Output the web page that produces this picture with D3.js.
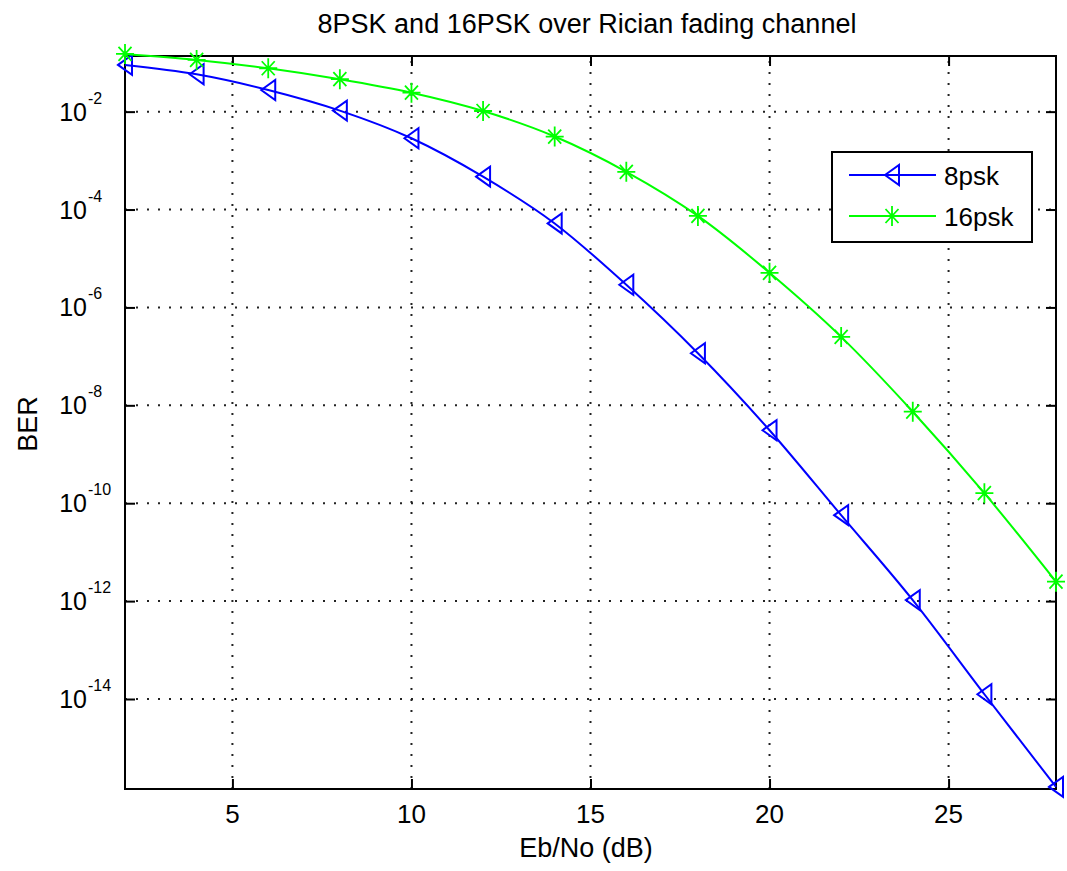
<!DOCTYPE html>
<html>
<head>
<meta charset="utf-8">
<script src="https://cdn.jsdelivr.net/npm/d3@7"></script>
<style>
  body { margin: 0; background: #fff; }
  svg { display: block; font-family: "Liberation Sans", Arial, sans-serif; }
</style>
</head>
<body>
<svg id="chart" width="1067" height="871"></svg>
<script>
// Eb/No in dB
const ebno = [2, 4, 6, 8, 10, 12, 14, 16, 18, 20, 22, 24, 26, 28];
// BER
const ber8psk = [0.090, 0.058, 0.0277, 0.0105, 0.00286, 4.7e-4, 5.2e-5, 2.9e-6,
	1.16e-7, 3.1e-9, 5.7e-11, 1.05e-12, 1.25e-14, 1.6e-16];
const ber16psk = [0.151, 0.114, 0.077, 0.046, 0.0244, 0.0103, 0.0031, 5.9e-4,
	7.4e-5, 5.1e-6, 2.5e-7, 7.4e-9, 1.6e-10, 2.5e-12];
const xTicks = [5, 10, 15, 20, 25];
const yExponents = [-2, -4, -6, -8, -10, -12, -14];
const yLimits = [1.45e-16, 0.137];
const xLimits = [2, 28];
const seriesNames = ["8psk", "16psk"];

const svg = d3.select("#chart");
const margins = {top: 56, left: 125, right: 11, bottom: 82};
const width = +svg.attr("width");
const height = +svg.attr("height");
const x0 = margins.left, x1 = width - margins.right;
const y0 = margins.top, y1 = height - margins.bottom;

const xScale = d3.scaleLinear().domain(xLimits).range([x0, x1]);
const yScale = d3.scaleLog().domain(yLimits).range([y1, y0]);
const yTicks = yExponents.map(e => Math.pow(10, e));

svg.append("rect").attr("width", width).attr("height", height).attr("fill", "#fff");

// dotted grid
const grid = svg.append("g").attr("stroke", "#222").attr("stroke-width", 2)
	.attr("stroke-dasharray", "2,9");
grid.selectAll(".vgrid").data(xTicks).enter().append("line")
	.attr("x1", d => xScale(d)).attr("x2", d => xScale(d))
	.attr("y1", y1).attr("y2", y0);
grid.selectAll(".hgrid").data(yTicks).enter().append("line")
	.attr("x1", x0).attr("x2", x1)
	.attr("y1", d => yScale(d)).attr("y2", d => yScale(d));

// inward ticks on all four sides
const tickLen = 10;
function styleAxis(g) {
	g.select(".domain").remove();
	g.selectAll(".tick line").attr("stroke", "#000").attr("stroke-width", 2);
}
svg.append("g").attr("transform", "translate(0," + y1 + ")")
	.call(d3.axisBottom(xScale).tickValues(xTicks).tickSize(-tickLen).tickFormat(""))
	.call(styleAxis);
svg.append("g").attr("transform", "translate(0," + y0 + ")")
	.call(d3.axisTop(xScale).tickValues(xTicks).tickSize(-tickLen).tickFormat(""))
	.call(styleAxis);
svg.append("g").attr("transform", "translate(" + x0 + ",0)")
	.call(d3.axisLeft(yScale).tickValues(yTicks).tickSize(-tickLen).tickFormat(""))
	.call(styleAxis);
svg.append("g").attr("transform", "translate(" + x1 + ",0)")
	.call(d3.axisRight(yScale).tickValues(yTicks).tickSize(-tickLen).tickFormat(""))
	.call(styleAxis);

// frame
svg.append("rect")
	.attr("x", x0).attr("y", y0)
	.attr("width", x1 - x0).attr("height", y1 - y0)
	.attr("fill", "none").attr("stroke", "#000").attr("stroke-width", 2);

// x tick labels
svg.append("g").selectAll("text").data(xTicks).enter().append("text")
	.attr("x", d => xScale(d)).attr("y", y1 + 34)
	.attr("text-anchor", "middle").attr("font-size", 26)
	.text(d => d);

// y tick labels: 10 with exponent
const yLab = svg.append("g").selectAll("g").data(yExponents).enter().append("g")
	.attr("transform", d => "translate(87," + yScale(Math.pow(10, d)) + ")");
yLab.append("text").attr("text-anchor", "end").attr("y", 9)
	.attr("font-size", 25).text("10");
yLab.append("text").attr("x", 1).attr("y", -8)
	.attr("font-size", 16).text(d => "-" + Math.abs(d));

// series
const series = [
	{name: seriesNames[0], values: ber8psk, colour: "#0000ff", marker: "tri"},
	{name: seriesNames[1], values: ber16psk, colour: "#00ff00", marker: "star"}
];
const line = d3.line()
	.x(d => xScale(d[0]))
	.y(d => yScale(d[1]))
	.curve(d3.curveMonotoneX);

const triPath = "M-7,0L7,-10L7,10Z";
const starPath = "M0,-10V10M-9,0H9M-6.5,-7L6.5,7M-6.5,7L6.5,-7";

function drawMarker(g, type, colour) {
	g.append("path")
		.attr("d", type === "tri" ? triPath : starPath)
		.attr("fill", "none").attr("stroke", colour)
		.attr("stroke-width", type === "tri" ? 2 : 1.8);
}

series.forEach(function(s) {
	const pts = ebno.map((e, i) => [e, s.values[i]]);
	svg.append("path").datum(pts)
		.attr("d", line)
		.attr("fill", "none").attr("stroke", s.colour).attr("stroke-width", 2);
	svg.append("g").selectAll("g").data(pts).enter().append("g")
		.attr("transform", d => "translate(" + xScale(d[0]) + "," + yScale(d[1]) + ")")
		.each(function() { drawMarker(d3.select(this), s.marker, s.colour); });
});

// legend
const legend = svg.append("g");
legend.append("rect")
	.attr("x", 832).attr("y", 152).attr("width", 200).attr("height", 90)
	.attr("fill", "#fff").attr("stroke", "#000").attr("stroke-width", 2);
series.forEach(function(s, i) {
	const ly = 175 + i * 41;
	legend.append("line").attr("x1", 849).attr("x2", 936)
		.attr("y1", ly).attr("y2", ly)
		.attr("stroke", s.colour).attr("stroke-width", 2);
	drawMarker(legend.append("g").attr("transform", "translate(892," + ly + ")"), s.marker, s.colour);
	legend.append("text").attr("x", 944).attr("y", ly + 10)
		.attr("font-size", 26).text(s.name);
});

// title and axis labels
svg.append("text").attr("x", 587).attr("y", 33)
	.attr("text-anchor", "middle").attr("font-size", 27)
	.text("8PSK and 16PSK over Rician fading channel");
svg.append("text").attr("x", 586).attr("y", 857)
	.attr("text-anchor", "middle").attr("font-size", 27)
	.text("Eb/No (dB)");
svg.append("text").attr("transform", "translate(37,424) rotate(-90)")
	.attr("text-anchor", "middle").attr("font-size", 27)
	.text("BER");
</script>
</body>
</html>
